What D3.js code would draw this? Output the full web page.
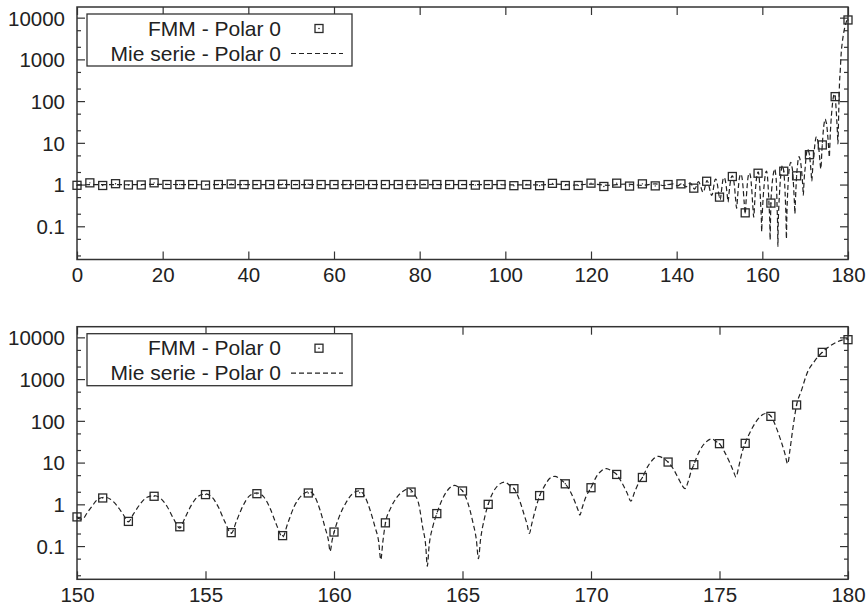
<!DOCTYPE html>
<html>
<head>
<meta charset="utf-8">
<script src="https://cdn.jsdelivr.net/npm/d3@7/dist/d3.min.js"></script>
<style>
  body { margin: 0; background: #fff; }
  svg { display: block; }
</style>
</head>
<body>
<div id="chart"></div>
<script>
// FMM markers, top panel, every 3 degrees from 0 to 147 (150+ come from the zoomed panel)
var topFmmAngles = d3.range(0, 148, 3);
var topFmmValues = [0.96, 1.1, 0.95, 1.05, 0.98, 0.98, 1.1, 1.0, 1.0, 1.0,
                    0.97, 1.0, 1.03, 1.0, 1.0, 1.0, 1.02, 1.0, 1.02, 1.0,
                    1.0, 1.0, 1.0, 1.0, 1.0, 1.0, 1.0, 1.02, 1.0, 1.0,
                    1.0, 0.97, 1.0, 1.0, 0.94, 1.0, 0.94, 1.07, 0.95, 0.95,
                    1.08, 0.9, 1.08, 0.92, 1.04, 0.93, 1.0, 1.04, 0.82, 1.2];

// FMM markers, bottom panel, every degree from 150 to 180
var zoomFmmAngles = d3.range(150, 181, 1);
var zoomFmmValues = [0.5, 1.42, 0.39, 1.56, 0.29, 1.71, 0.21, 1.8, 0.178, 1.87,
                     0.217, 1.9, 0.36, 1.97, 0.6, 2.09, 1.0, 2.37, 1.62, 3.1,
                     2.5, 5.2, 4.4, 10.3, 8.9, 28.4, 28.9, 128, 240, 4370, 8800];

// Mie series, 0 to ~150 degrees
var topMieAngles = [0, 6, 12, 18, 24, 30, 36, 42, 48, 54, 60, 66, 72, 78, 84, 90, 96,
                    102, 108, 112, 116, 120, 124, 128, 132, 135, 137, 139.2, 140.2,
                    141.2, 142.2, 143.15, 144.2, 145.1, 146.2, 147.1, 148.2, 149.05,
                    149.3, 149.55, 149.8];
var topMieValues = [0.98, 1.0, 0.99, 1.01, 1.0, 0.99, 1.0, 1.0, 1.0, 1.0, 1.0, 1.0, 1.0, 1.0, 1.0, 1.0, 1.0,
                    0.98, 0.98, 1.02, 0.97, 1.03, 0.96, 1.03, 0.96, 1.04, 0.95, 1.04, 0.93,
                    1.05, 0.88, 1.1, 0.78, 1.17, 0.65, 1.25, 0.55, 1.35,
                    1.28, 0.95, 0.62];

// Mie series, 150 to 180 degrees
var zoomMieAngles = [
    150.0, 150.2, 150.4, 150.6, 150.8, 151.05, 151.3, 151.55, 151.8, 152.0,
    152.2, 152.45, 152.7, 153.0, 153.25, 153.5, 153.75, 154.0,
    154.2, 154.45, 154.7, 155.0, 155.25, 155.5, 155.75, 156.0,
    156.2, 156.45, 156.7, 157.0, 157.25, 157.5, 157.75, 158.0,
    158.2, 158.45, 158.75, 159.05, 159.25, 159.45, 159.65, 159.78, 159.85,
    159.93, 160.0, 160.2, 160.45, 160.7, 160.98, 161.2, 161.4, 161.6, 161.74, 161.82,
    161.9, 162.0, 162.2, 162.45, 162.7, 162.92, 163.1, 163.3, 163.45, 163.57, 163.63,
    163.7, 163.85, 164.0, 164.2, 164.45, 164.7, 164.88, 165.0, 165.2, 165.4, 165.54, 165.62,
    165.7, 165.85, 166.0, 166.2, 166.4, 166.65, 166.85, 167.0, 167.2, 167.4, 167.52, 167.6,
    167.7, 167.85, 168.0, 168.2, 168.4, 168.6, 168.8, 169.0, 169.2, 169.4, 169.5, 169.57,
    169.65, 169.8, 170.0, 170.2, 170.4, 170.6, 170.8, 171.0, 171.2, 171.4, 171.55,
    171.7, 171.85, 172.0, 172.2, 172.4, 172.62, 172.82, 173.0, 173.2, 173.4, 173.55, 173.66,
    173.78, 173.9, 174.0, 174.2, 174.45, 174.7, 174.88, 175.0, 175.2, 175.4, 175.55, 175.64,
    175.75, 175.88, 176.0, 176.25, 176.55, 176.8, 177.0, 177.2, 177.4, 177.55, 177.65,
    177.75, 177.85, 178.0, 178.2, 178.4, 178.7, 179.0, 179.3, 179.6, 180.0];
var zoomMieValues = [
    0.47, 0.44, 0.63, 0.93, 1.31, 1.48, 1.33, 0.94, 0.57, 0.38,
    0.59, 1.0, 1.45, 1.62, 1.4, 0.9, 0.46, 0.27,
    0.47, 0.955, 1.53, 1.78, 1.49, 0.86, 0.385, 0.2,
    0.39, 0.9, 1.57, 1.88, 1.55, 0.84, 0.34, 0.165,
    0.35, 0.885, 1.65, 2.02, 1.55, 0.75, 0.28, 0.14, 0.075,
    0.14, 0.21, 0.5, 1.05, 1.74, 2.1, 1.55, 0.74, 0.28, 0.126, 0.047,
    0.126, 0.35, 0.8, 1.48, 2.1, 2.37, 1.82, 1.0, 0.28, 0.1, 0.033,
    0.1, 0.3, 0.6, 1.26, 2.3, 2.85, 2.45, 2.1, 1.12, 0.38, 0.14, 0.05,
    0.14, 0.45, 1.0, 2.0, 2.9, 3.4, 2.8, 2.4, 1.35, 0.56, 0.32, 0.2,
    0.35, 0.8, 1.6, 2.8, 4.2, 4.7, 4.0, 3.1, 2.0, 1.05, 0.72, 0.55,
    0.8, 1.5, 2.5, 4.5, 6.3, 7.2, 6.3, 5.2, 3.3, 1.9, 1.2,
    2.0, 3.2, 4.4, 7.9, 11.7, 14.1, 12.6, 10.3, 7.1, 4.2, 2.8, 2.37,
    3.5, 6.3, 8.9, 17.8, 30, 37, 31.6, 28.4, 17.8, 10, 6.0, 4.5,
    8, 17.8, 28.9, 63, 120, 150, 130, 71, 32, 16, 9.4,
    22, 63, 240, 560, 1350, 2700, 4400, 6200, 7900, 9300];

var yMajorTicks = [0.1, 1, 10, 100, 1000, 10000];
var yTickLabels = ["0.1", "1", "10", "100", "1000", "10000"];
var yMinorTicks = [0.02, 0.05, 0.2, 0.5, 2, 5, 20, 50, 200, 500, 2000, 5000];
var topXTicks = [0, 20, 40, 60, 80, 100, 120, 140, 160, 180];
var zoomXTicks = [150, 155, 160, 165, 170, 175, 180];
var legendLabels = ["FMM - Polar 0", "Mie serie - Polar 0"];

var width = 867, height = 608;
var plotLeft = 77, plotRight = 848;
var ink = "#222";
var fontFamily = "'Liberation Sans', Arial, Helvetica, sans-serif";

var svg = d3.select("#chart").append("svg")
    .attr("width", width)
    .attr("height", height);

function pairs(xs, vs) {
    return xs.map(function(a, i) { return [a, vs[i]]; });
}

var zoomFmm = pairs(zoomFmmAngles, zoomFmmValues);
var zoomMie = pairs(zoomMieAngles, zoomMieValues);
var topFmm = pairs(topFmmAngles, topFmmValues).concat(zoomFmm.filter(function(d) { return d[0] % 3 === 0; }));
var topMie = pairs(topMieAngles, topMieValues).concat(zoomMie);

function drawPanel(p) {
    var g = svg.append("g");

    var x = d3.scaleLinear().domain(p.xDomain).range([plotLeft, plotRight]);
    var y = d3.scaleLog().domain([0.016, 18000]).range([p.bottom, p.top]);

    function styleAxis(sel) {
        sel.select(".domain").remove();
        sel.selectAll("line").attr("stroke", "#333").attr("stroke-width", 1.2);
        sel.selectAll("text")
            .attr("fill", ink)
            .style("font-family", fontFamily)
            .style("font-size", "20.5px");
    }

    // ticks: major on all four sides, minor log ticks left and right
    g.append("g")
        .attr("transform", "translate(0," + p.bottom + ")")
        .call(d3.axisBottom(x).tickValues(p.xTicks).tickSize(-8).tickPadding(8).tickFormat(d3.format("d")))
        .call(styleAxis);
    g.append("g")
        .attr("transform", "translate(0," + p.top + ")")
        .call(d3.axisTop(x).tickValues(p.xTicks).tickSize(-8).tickFormat(""))
        .call(styleAxis);
    g.append("g")
        .attr("transform", "translate(" + plotLeft + ",0)")
        .call(d3.axisLeft(y).tickValues(yMajorTicks).tickSize(-8).tickPadding(12)
            .tickFormat(function(d, i) { return yTickLabels[i]; }))
        .call(styleAxis)
        .selectAll("text").attr("dy", "0.36em");
    g.append("g")
        .attr("transform", "translate(" + plotLeft + ",0)")
        .call(d3.axisLeft(y).tickValues(yMinorTicks).tickSize(-4).tickFormat(""))
        .call(styleAxis);
    g.append("g")
        .attr("transform", "translate(" + plotRight + ",0)")
        .call(d3.axisRight(y).tickValues(yMajorTicks).tickSize(-8).tickFormat(""))
        .call(styleAxis);
    g.append("g")
        .attr("transform", "translate(" + plotRight + ",0)")
        .call(d3.axisRight(y).tickValues(yMinorTicks).tickSize(-4).tickFormat(""))
        .call(styleAxis);

    // frame
    g.append("rect")
        .attr("x", plotLeft)
        .attr("y", p.top)
        .attr("width", plotRight - plotLeft)
        .attr("height", p.bottom - p.top)
        .attr("fill", "none")
        .attr("stroke", "#333")
        .attr("stroke-width", 1.5);

    // mie series, dashed
    var line = d3.line()
        .x(function(d) { return x(d[0]); })
        .y(function(d) { return y(d[1]); })
        .curve(d3.curveMonotoneX);

    g.append("path")
        .datum(p.mie)
        .attr("d", line)
        .attr("fill", "none")
        .attr("stroke", ink)
        .attr("stroke-width", 1.2)
        .attr("stroke-dasharray", "5,3");

    // fmm squares
    var marks = g.append("g");
    marks.selectAll("rect")
        .data(p.fmm)
        .join("rect")
        .attr("x", function(d) { return x(d[0]) - 4; })
        .attr("y", function(d) { return y(d[1]) - 4; })
        .attr("width", 8)
        .attr("height", 8)
        .attr("fill", "none")
        .attr("stroke", "#2a2a2a")
        .attr("stroke-width", 1.3);
    marks.selectAll("circle")
        .data(p.fmm)
        .join("circle")
        .attr("cx", function(d) { return x(d[0]); })
        .attr("cy", function(d) { return y(d[1]); })
        .attr("r", 0.7)
        .attr("fill", ink);

    // legend
    var lx = plotLeft + 10, ly = p.top + 7;
    var lg = g.append("g");
    lg.append("rect")
        .attr("x", lx)
        .attr("y", ly)
        .attr("width", 265)
        .attr("height", 52)
        .attr("fill", "#fff")
        .attr("stroke", "#333")
        .attr("stroke-width", 1.3);

    lg.selectAll("text")
        .data(legendLabels)
        .join("text")
        .attr("x", plotLeft + 204)
        .attr("y", function(d, i) { return ly + 21.5 + i * 25; })
        .attr("text-anchor", "end")
        .attr("fill", ink)
        .style("font-family", fontFamily)
        .style("font-size", "21px")
        .text(function(d) { return d; });

    lg.append("rect")
        .attr("x", plotLeft + 242 - 4)
        .attr("y", ly + 14.5 - 4)
        .attr("width", 8)
        .attr("height", 8)
        .attr("fill", "none")
        .attr("stroke", "#2a2a2a")
        .attr("stroke-width", 1.3);
    lg.append("circle")
        .attr("cx", plotLeft + 242)
        .attr("cy", ly + 14.5)
        .attr("r", 0.8)
        .attr("fill", ink);

    lg.append("line")
        .attr("x1", plotLeft + 214)
        .attr("x2", plotLeft + 266)
        .attr("y1", ly + 39.5)
        .attr("y2", ly + 39.5)
        .attr("stroke", ink)
        .attr("stroke-width", 1.2)
        .attr("stroke-dasharray", "5,3");
}

drawPanel({ top: 7, bottom: 259.5, xDomain: [0, 180], xTicks: topXTicks, fmm: topFmm, mie: topMie });
drawPanel({ top: 326.7, bottom: 579.3, xDomain: [150, 180], xTicks: zoomXTicks, fmm: zoomFmm, mie: zoomMie });
</script>
</body>
</html>
